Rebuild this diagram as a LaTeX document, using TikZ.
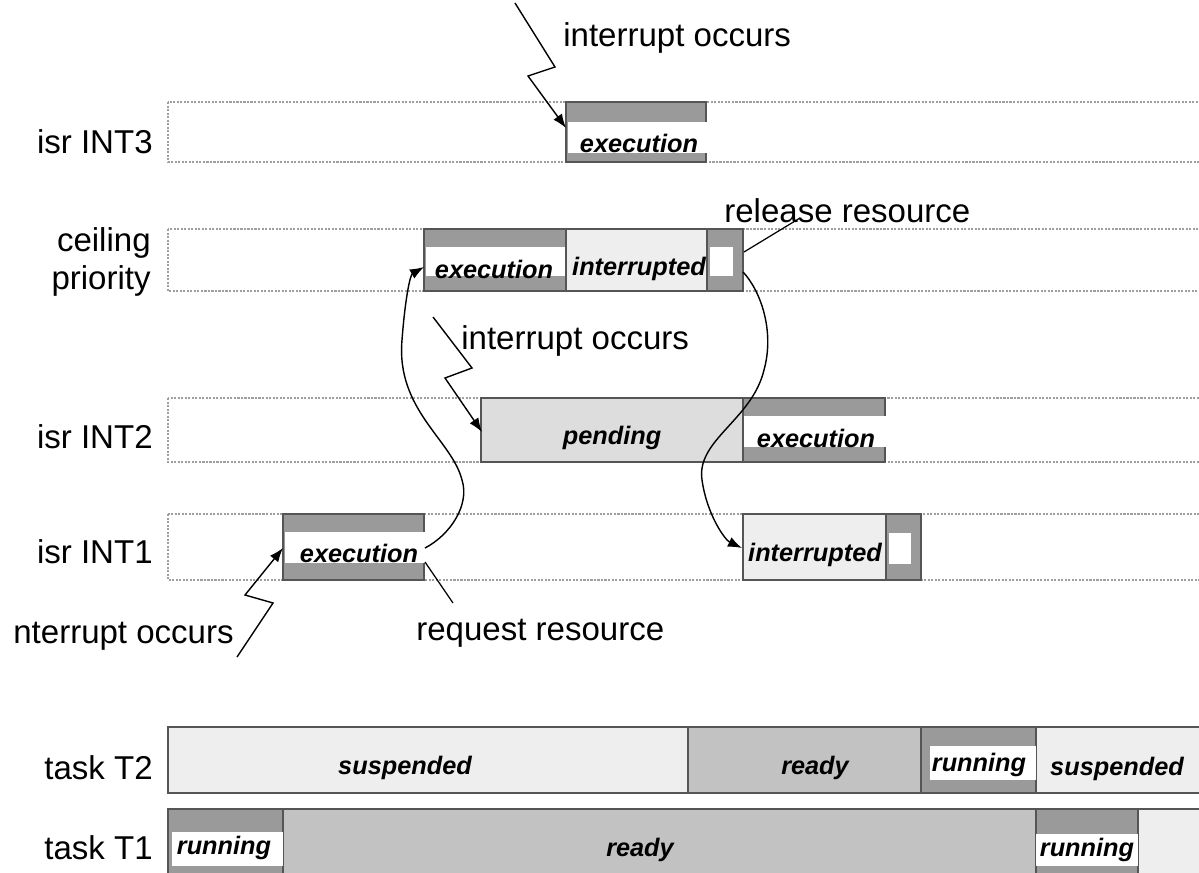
\documentclass[tikz,border=0pt]{standalone}
\usepackage{fontspec}
\setmainfont{Liberation Sans}
\usetikzlibrary{arrows.meta}

\definecolor{execgray}{HTML}{9A9A9A}
\definecolor{readygray}{HTML}{C2C2C2}
\definecolor{pendgray}{HTML}{DDDDDD}
\definecolor{idlegray}{HTML}{EEEEEE}
\definecolor{edgegray}{HTML}{555555}

\tikzset{
  lane/.style={draw=gray!75,line width=0.7pt,dash pattern=on 1.2pt off 0.8pt},
  bar/.style={draw=edgegray,line width=0.6pt},
  rowlabel/.style={font=\fontsize{18.8}{22}\selectfont,anchor=east,align=right,inner sep=0pt},
  note/.style={font=\fontsize{18.8}{22}\selectfont,inner sep=0pt},
  state/.style={font=\fontsize{14.4}{16}\selectfont\bfseries\itshape,inner sep=0pt},
  flash/.style={line width=0.8pt,-{Latex[length=2.8mm,width=2.1mm]}},
}

\begin{document}
\begin{tikzpicture}[x=0.02cm,y=-0.02cm]
        \useasboundingbox (0,0) rectangle (1199,872);
        \clip (0,0) rectangle (1199,872);

        \draw[lane] (168,102) rectangle (1215,162);
        \draw[lane] (168,229) rectangle (1215,291);
        \draw[lane] (168,398) rectangle (1215,462);
        \draw[lane] (168,514) rectangle (1215,580);

        % isr INT3
        \fill[execgray] (566,102) rectangle (706,162);
        \fill[white]    (568,122) rectangle (706,153);
        \draw[bar] (706,122) -- (706,102) -- (566,102) -- (566,162) -- (706,162) -- (706,153);

        % ceiling priority
        \fill[execgray] (424,229) rectangle (566,291);
        \fill[white]    (426,247) rectangle (566,276);
        \draw[bar]      (424,229) rectangle (566,291);
        \filldraw[bar,fill=idlegray] (566,229) rectangle (707,291);
        \filldraw[bar,fill=execgray] (707,229) rectangle (743,291);
        \fill[white]    (710,247) rectangle (733,276);

        % isr INT2
        \filldraw[bar,fill=pendgray] (481,398) rectangle (743,462);
        \fill[execgray] (743,398) rectangle (885,462);
        \fill[white]    (743,416) rectangle (885,447);
        \draw[bar] (885,416) -- (885,398) -- (743,398) -- (743,462) -- (885,462) -- (885,447);

        % isr INT1
        \fill[execgray] (283,514) rectangle (424,580);
        \fill[white]    (285,532) rectangle (424,563);
        \draw[bar] (424,532) -- (424,514) -- (283,514) -- (283,580) -- (424,580) -- (424,563);
        \filldraw[bar,fill=idlegray] (743,514) rectangle (886,580);
        \filldraw[bar,fill=execgray] (886,514) rectangle (921,580);
        \fill[white]    (889,533) rectangle (911,564);

        % task T2
        \filldraw[bar,fill=idlegray]  (168,727) rectangle (1215,793);
        \filldraw[bar,fill=readygray] (688,727) rectangle (921,793);
        \filldraw[bar,fill=execgray]  (921,727) rectangle (1036,793);
        \fill[white] (930,746) rectangle (1036,780);

        % task T1
        \filldraw[bar,fill=idlegray]  (168,809) rectangle (1215,885);
        \filldraw[bar,fill=readygray] (168,809) rectangle (1036,885);
        \filldraw[bar,fill=execgray]  (168,809) rectangle (283,885);
        \fill[white] (172,832) rectangle (283,866);
        \filldraw[bar,fill=execgray]  (1036,809) rectangle (1138,885);
        \fill[white] (1036,834) rectangle (1138,866);

        \node[rowlabel] (int3)  at (153,142) {isr INT3};
        \node[rowlabel] (ceil)  at (151,262) {ceiling\\priority};
        \node[rowlabel] (int2)  at (153,437) {isr INT2};
        \node[rowlabel] (int1)  at (153,552) {isr INT1};
        \node[rowlabel] (taskb) at (153,768) {task T2};
        \node[rowlabel] (taska) at (153,848) {task T1};

        \node[state] (i3exec)  at (639,143) {execution};
        \node[state] (cpexec)  at (494,269) {execution};
        \node[state] (cpint)   at (639,269) {interrupted};
        \node[state] (i2pend)  at (612,438) {pending};
        \node[state] (i2exec)  at (816,438) {execution};
        \node[state] (i1exec)  at (359,553) {execution};
        \node[state] (i1int)   at (815,555) {interrupted};
        \node[state] (t2susp)  at (405,768) {suspended};
        \node[state] (t2ready) at (815,768) {ready};
        \node[state] (t2run)   at (979,765) {running};
        \node[state] (t2end)   at (1117,769) {suspended};
        \node[state] (t1run)   at (224,848) {running};
        \node[state] (t1ready) at (640,850) {ready};
        \node[state] (t1back)  at (1087,850) {running};

        \node[note,anchor=west] (occ3) at (563,38)  {interrupt occurs};
        \node[note,anchor=west] (occ2) at (461,341) {interrupt occurs};
        \node[note,anchor=east] (occ1) at (234,636) {nterrupt occurs};
        \node[note,anchor=west] (rel)  at (724,211) {release resource};
        \node[note,anchor=west] (req)  at (416,633) {request resource};

        \coordinate (z3a) at (515,3);
        \coordinate (z3b) at (566,128);
        \coordinate (z2a) at (433,317);
        \coordinate (z2b) at (482,432);
        \coordinate (z1a) at (237,657);
        \coordinate (z1b) at (283,548);

        \draw[flash] (z3a) -- (555,67) -- (528,76) -- (z3b);
        \draw[flash] (z2a) -- (472,368) -- (445,378) -- (z2b);
        \draw[flash] (z1a) -- (273,603) -- (245,595) -- (z1b);

        \coordinate (reqfoot) at (425,562);
        \coordinate (reqtop)  at (453,603);
        \coordinate (relfoot) at (744,252);
        \coordinate (reltop)  at (800,218);
        \draw[line width=0.7pt] (reqfoot) -- (reqtop);
        \draw[line width=0.7pt] (relfoot) -- (reltop);

        \coordinate (i1out) at (425,548);
        \coordinate (cpin)  at (424,267);
        \coordinate (cpout) at (743,272);
        \coordinate (i1in)  at (742,548);

        \draw[flash] (i1out) .. controls (450,535) and (470,505) .. (462,480)
                             .. controls (452,440) and (396,410) .. (402,340)
                             .. controls (405,300) and (410,275) .. (cpin);
        \draw[flash] (cpout) .. controls (760,290) and (775,330) .. (764,370)
                             .. controls (752,420) and (696,440) .. (702,480)
                             .. controls (707,515) and (725,540) .. (i1in);
\end{tikzpicture}
\end{document}
